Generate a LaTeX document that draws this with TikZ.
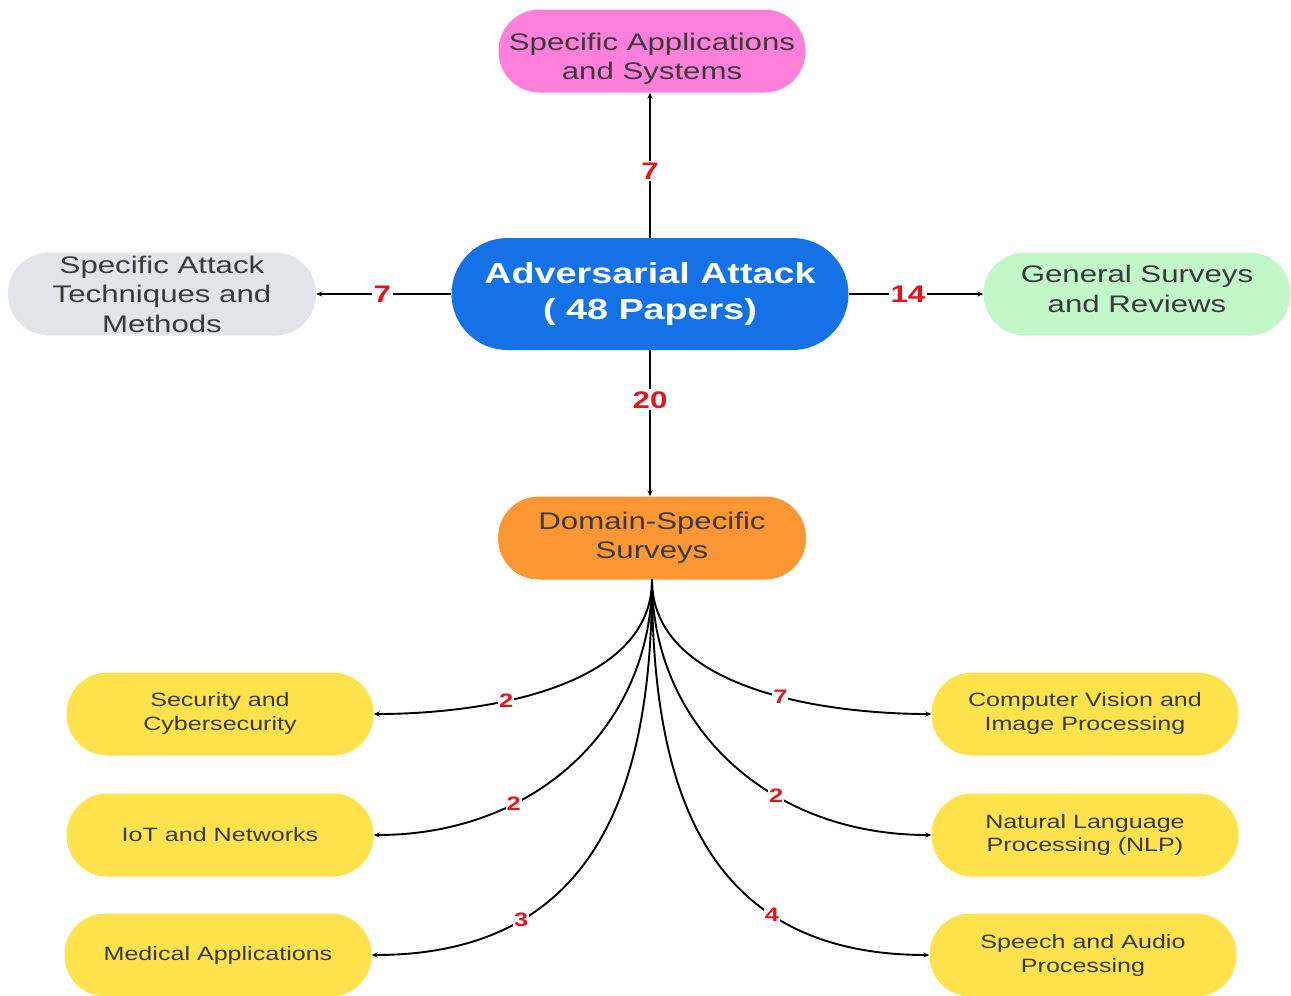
\documentclass[tikz,border=0pt]{standalone}
\usepackage{fontspec}
\setmainfont{Liberation Sans}[FakeStretch=1.3]
\usetikzlibrary{arrows.meta}
\definecolor{txt}{HTML}{3A3A3A}
\definecolor{cpink}{HTML}{FF80DA}
\definecolor{cblue}{HTML}{1471E6}
\definecolor{cgray}{HTML}{E2E4E9}
\definecolor{cgreen}{HTML}{C2F8C9}
\definecolor{corange}{HTML}{FD9733}
\definecolor{cyellow}{HTML}{FFE24C}
\definecolor{numred}{HTML}{E3151A}
\begin{document}
\begin{tikzpicture}[x=1pt,y=-1pt,
 box/.style={rounded corners=41pt, minimum width=307pt, minimum height=83pt, align=center, text=txt, inner sep=0pt},
 big/.style={box, font=\fontsize{24}{29.5}\selectfont},
 small/.style={box, fill=cyellow, font=\fontsize{19.3}{24}\selectfont},
 conn/.style={line width=1.9pt, -{Stealth[length=6pt,width=5pt]}},
 num/.style={text=numred, font=\bfseries\fontsize{24}{24}\selectfont, fill=white, inner sep=2pt},
 snum/.style={text=numred, font=\bfseries\fontsize{19.5}{19.5}\selectfont, fill=white, inner sep=1pt}
]
\useasboundingbox (0,0) rectangle (1291,996);

\node[big, fill=cpink] (top) at (652,51) {\rule{0pt}{33pt}Specific Applications\\and Systems};
\node[box, fill=cblue, text=white, minimum width=397pt, minimum height=112pt, rounded corners=56pt,
      font=\bfseries\fontsize{29}{36}\selectfont] (c) at (650,294) {Adversarial Attack\\( 48 Papers)};
\node[big, fill=cgray, minimum width=308pt] (left) at (162,294) {Specific Attack\\Techniques and\\Methods};
\node[big, fill=cgreen] (right) at (1137,294) {General Surveys\\and Reviews\rule[-10pt]{0pt}{0pt}};
\node[big, fill=corange, minimum width=308pt] (ds) at (652,538) {Domain-Specific\\Surveys};

\node[small] (sec) at (220,714) {Security and\\Cybersecurity};
\node[small] (iot) at (220,835) {IoT and Networks};
\node[small] (med) at (218,955) {Medical Applications};
\node[small] (cv) at (1085,714) {Computer Vision and\\Image Processing};
\node[small] (nlp) at (1085,835) {Natural Language\\Processing (NLP)};
\node[small] (sp) at (1083,955) {Speech and Audio\\Processing};

\draw[conn] (c.north) -- node[num, pos=0.46]{7} (c.north |- top.south);
\draw[conn] (c.west) -- node[num, pos=0.51]{7} (left.east);
\draw[conn] (c.east) -- node[num, pos=0.44]{14} (right.west);
\draw[conn] (c.south) -- node[num, pos=0.34]{20} (c.south |- ds.north);

\draw[conn] (ds.south) .. controls +(0,110) and +(105,0) .. node[snum, pos=0.63]{2} (sec.east);
\draw[conn] (ds.south) .. controls +(0,145) and +(164,0) .. node[snum, pos=0.68]{2} (iot.east);
\draw[conn] (ds.south) .. controls +(0,200) and +(230,0) .. node[snum, pos=0.73]{3} (med.east);
\draw[conn] (ds.south) .. controls +(0,110) and +(-105,0) .. node[snum, pos=0.58]{7} (cv.west);
\draw[conn] (ds.south) .. controls +(0,145) and +(-164,0) .. node[snum, pos=0.64]{2} (nlp.west);
\draw[conn] (ds.south) .. controls +(0,200) and +(-230,0) .. node[snum, pos=0.71]{4} (sp.west);
\end{tikzpicture}
\end{document}
